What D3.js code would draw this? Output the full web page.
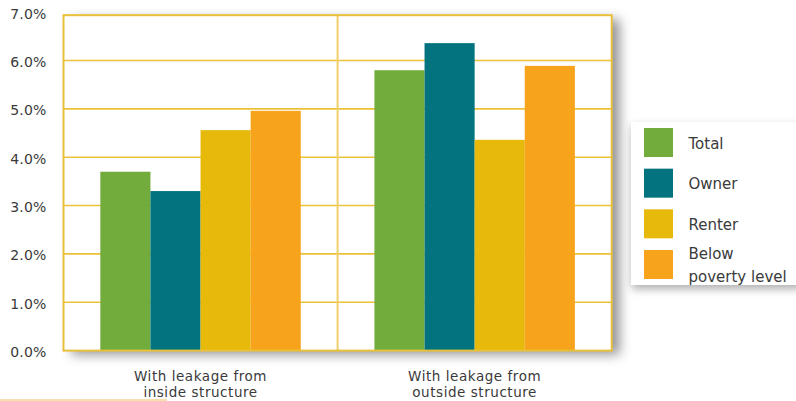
<!DOCTYPE html>
<html>
<head>
<meta charset="utf-8">
<script src="https://cdn.jsdelivr.net/npm/d3@7/dist/d3.min.js"></script>
<style>
  html, body { margin: 0; padding: 0; background: #fff; }
  svg { display: block; font-family: "DejaVu Sans", sans-serif; }
</style>
</head>
<body>
<svg id="chart" width="796" height="401"></svg>
<script>
// Leakage shares by household group
const categories = [["With leakage from", "inside structure"], ["With leakage from", "outside structure"]];
const seriesNames = ["Total", "Owner", "Renter", "Below poverty level"];
const total   = [3.7, 5.8];
const owner   = [3.3, 6.36];
const renter  = [4.56, 4.36];
const poverty = [4.96, 5.89];
const tickValues = [0, 1, 2, 3, 4, 5, 6, 7];
const tickLabels = ["0.0%", "1.0%", "2.0%", "3.0%", "4.0%", "5.0%", "6.0%", "7.0%"];
const colors = ["#72ac3c", "#03737f", "#e6b90b", "#f7a41c"];

const seriesValues = [total, owner, renter, poverty];

const svg = d3.select("#chart");
const plot = { left: 63.5, right: 611.7, top: 12.2, bottom: 350.6 };

const catKeys = categories.map((c, i) => i);
const x0 = d3.scaleBand().domain(catKeys).range([plot.left, plot.right]).paddingInner(0).paddingOuter(0);
const x1 = d3.scaleBand().domain(seriesNames).range([0, x0.bandwidth()]).paddingInner(0).paddingOuter(0.735);
const y = d3.scaleLinear().domain([0, 7]).range([plot.bottom, plot.top]);

const frameTop = y(7) + 3;

// shadows
const defs = svg.append("defs");
const f1 = defs.append("filter").attr("id", "plotShadow")
  .attr("x", "-10%").attr("y", "-10%").attr("width", "130%").attr("height", "130%");
f1.append("feGaussianBlur").attr("stdDeviation", 6);
const f2 = defs.append("filter").attr("id", "legendShadow")
  .attr("x", "-20%").attr("y", "-20%").attr("width", "140%").attr("height", "150%");
f2.append("feGaussianBlur").attr("stdDeviation", 4);

svg.append("rect")
  .attr("x", plot.left + 8).attr("y", frameTop + 4)
  .attr("width", plot.right - plot.left).attr("height", plot.bottom - frameTop)
  .attr("fill", "#7a7a7a").attr("opacity", 0.8)
  .attr("filter", "url(#plotShadow)");

svg.append("rect")
  .attr("x", plot.left).attr("y", frameTop)
  .attr("width", plot.right - plot.left).attr("height", plot.bottom - frameTop)
  .attr("fill", "#ffffff");

// horizontal gridlines
svg.append("g").selectAll("line")
  .data(tickValues.filter(v => v > 0 && v < 7))
  .join("line")
  .attr("x1", plot.left).attr("x2", plot.right)
  .attr("y1", d => y(d)).attr("y2", d => y(d))
  .attr("stroke", "#ecc13a").attr("stroke-width", 1.6);

// category divider
svg.append("line")
  .attr("x1", x0(1)).attr("x2", x0(1))
  .attr("y1", frameTop).attr("y2", plot.bottom)
  .attr("stroke", "#f1d06a").attr("stroke-width", 2);

// bars
const groups = svg.append("g").selectAll("g")
  .data(catKeys)
  .join("g")
  .attr("transform", d => `translate(${x0(d)},0)`);

groups.selectAll("rect")
  .data(ci => seriesNames.map((s, si) => ({ s, si, v: seriesValues[si][ci] })))
  .join("rect")
  .attr("x", d => x1(d.s))
  .attr("width", x1.bandwidth())
  .attr("y", d => y(d.v))
  .attr("height", d => y(0) - y(d.v))
  .attr("fill", d => colors[d.si]);

// frame
svg.append("rect")
  .attr("x", plot.left).attr("y", frameTop)
  .attr("width", plot.right - plot.left).attr("height", plot.bottom - frameTop)
  .attr("fill", "none").attr("stroke", "#e9c03a").attr("stroke-width", 2);

// y axis labels
const yAxis = d3.axisLeft(y).tickValues(tickValues).tickFormat((d, i) => tickLabels[i]).tickSize(0).tickPadding(0);
const yg = svg.append("g").attr("transform", `translate(${plot.left - 17},1.5)`).call(yAxis);
yg.select(".domain").remove();
yg.selectAll("text").attr("font-family", "DejaVu Sans").attr("font-size", 14)
  .attr("letter-spacing", 0.2).attr("fill", "#3a3a3a");

// x axis category labels
const xg = svg.append("g");
categories.forEach((lines, i) => {
  const cx = x0(i) + x0.bandwidth() / 2;
  const t = xg.append("text")
    .attr("x", cx)
    .attr("y", 381)
    .attr("text-anchor", "middle")
    .attr("font-size", 13.5).attr("letter-spacing", 0.55).attr("fill", "#3a3a3a");
  lines.forEach((ln, j) => {
    t.append("tspan").attr("x", cx).attr("dy", j === 0 ? 0 : 15.5).text(ln);
  });
});

// accent rule at bottom left
svg.append("rect").attr("x", 0).attr("y", 399).attr("width", 167).attr("height", 2).attr("fill", "#f6e0ae");

// legend
const lg = { x: 631, y: 122, w: 170, h: 163 };
svg.append("rect")
  .attr("x", lg.x + 1).attr("y", lg.y + 4).attr("width", lg.w).attr("height", lg.h)
  .attr("fill", "#777").attr("opacity", 0.6).attr("filter", "url(#legendShadow)");
svg.append("rect")
  .attr("x", lg.x).attr("y", lg.y).attr("width", lg.w).attr("height", lg.h)
  .attr("fill", "#ffffff");

const legendLines = [["Total"], ["Owner"], ["Renter"], ["Below", "poverty level"]];
const ly = d3.scalePoint().domain(seriesNames).range([142.5, 264.5]);
const items = svg.append("g").selectAll("g")
  .data(seriesNames)
  .join("g");
items.append("rect")
  .attr("x", 644).attr("width", 29)
  .attr("y", d => ly(d) - 14.5).attr("height", 29)
  .attr("fill", (d, i) => colors[i]);
items.append("text")
  .attr("x", 688.5)
  .attr("font-size", 15).attr("fill", "#3a3a3a")
  .each(function (d, i) {
    const lines = legendLines[i];
    const base = ly(d) + 6 - (lines.length - 1) * 11.5;
    const t = d3.select(this).attr("y", base);
    lines.forEach((ln, j) => {
      t.append("tspan").attr("x", 688.5).attr("dy", j === 0 ? 0 : 23).text(ln);
    });
  });
</script>
</body>
</html>
